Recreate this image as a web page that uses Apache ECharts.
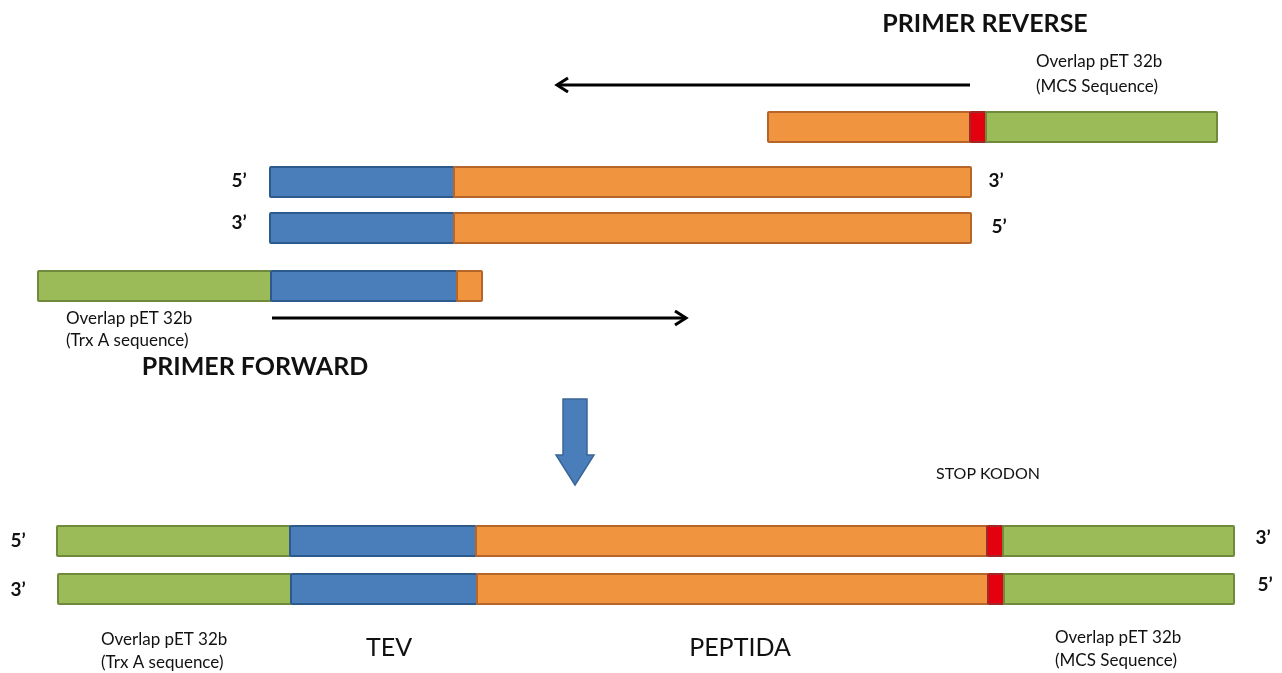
<!DOCTYPE html>
<html><head><meta charset="utf-8">
<script src="https://cdn.jsdelivr.net/npm/echarts@6/dist/echarts.min.js"></script>
<style>html,body{margin:0;padding:0;background:#fff}#c{width:1282px;height:673px}</style>
</head><body><div id="c"></div>
<script>
// Segment kinds
const kinds = ['trx', 'tev', 'peptida', 'stop', 'mcs'];
// Each strand: [rowCenterY, [start, end, kind]...]
const rowReverse = [127, [[768, 970, 'peptida'], [970, 986, 'stop'], [986, 1217, 'mcs']]];
const rowTemplateTop = [182, [[270, 454, 'tev'], [454, 971, 'peptida']]];
const rowTemplateBottom = [228, [[270, 454, 'tev'], [454, 971, 'peptida']]];
const rowForward = [286, [[38, 271, 'trx'], [271, 457, 'tev'], [457, 482, 'peptida']]];
const rowProductTop = [541, [[57, 290, 'trx'], [290, 476, 'tev'], [476, 987, 'peptida'], [987, 1003, 'stop'], [1003, 1234, 'mcs']]];
const rowProductBottom = [589, [[58, 291, 'trx'], [291, 477, 'tev'], [477, 988, 'peptida'], [988, 1004, 'stop'], [1004, 1234, 'mcs']]];
const strands = [rowReverse, rowTemplateTop, rowTemplateBottom, rowForward, rowProductTop, rowProductBottom];

// Primer arrows: [fromX, toX, y]
const primerArrows = [[970, 557, 85], [272, 686, 318]];
// Process arrow: [x, yFrom, yTo]
const processArrow = [575, 399, 485];

// Text labels: [text, x, y, style]
const labels = [
  ['PRIMER REVERSE', 985, 24, 'title'],
  ['Overlap pET 32b', 1036, 62, 'note'],
  ['(MCS Sequence)', 1036, 87, 'note'],
  ['5\u2019', 239, 181, 'end'],
  ['3\u2019', 996, 181, 'end'],
  ['3\u2019', 239, 223, 'end'],
  ['5\u2019', 999, 227, 'end'],
  ['Overlap pET 32b', 66, 319, 'note'],
  ['(Trx A sequence)', 66, 341, 'note'],
  ['PRIMER FORWARD', 255, 367, 'title'],
  ['STOP KODON', 988, 474, 'stop'],
  ['5\u2019', 18, 541, 'end'],
  ['3\u2019', 18, 590, 'end'],
  ['3\u2019', 1263, 538, 'end'],
  ['5\u2019', 1265, 585, 'end'],
  ['Overlap pET 32b', 101, 640, 'note'],
  ['(Trx A sequence)', 101, 663, 'note'],
  ['TEV', 389, 648, 'big'],
  ['PEPTIDA', 740, 648, 'big'],
  ['Overlap pET 32b', 1055, 638, 'note'],
  ['(MCS Sequence)', 1055, 661, 'note']
];

const fills = {trx: '#9BBB59', tev: '#4A7EBB', peptida: '#F0943F', stop: '#E3000F', mcs: '#9BBB59'};
const strokes = {trx: '#6E8A3A', tev: '#2C5A8C', peptida: '#B5652A', stop: '#A02828', mcs: '#6E8A3A'};
const textStyles = {
  title: {font: 'bold 25px Lato', align: 'center'},
  note: {font: '17px Lato', align: 'left'},
  stop: {font: '16px Lato', align: 'center'},
  end: {font: 'bold 19px Lato', align: 'center'},
  big: {font: '25px Lato', align: 'center'}
};

const segData = [];
strands.forEach(s => s[1].forEach(seg => segData.push([seg[0], seg[1], s[0], seg[2]])));
const BAR_H = 30;

const chart = echarts.init(document.getElementById('c'), null, {renderer: 'canvas'});
chart.setOption({
  animation: false,
  backgroundColor: '#ffffff',
  grid: {left: 0, right: 0, top: 0, bottom: 0},
  xAxis: {type: 'value', min: 0, max: 1282, show: false},
  yAxis: {type: 'value', min: 0, max: 673, inverse: true, show: false},
  series: [
    {
      type: 'custom',
      data: segData,
      renderItem: (params, api) => {
        const p0 = api.coord([api.value(0), api.value(2)]);
        const p1 = api.coord([api.value(1), api.value(2)]);
        const k = segData[params.dataIndex][3];
        return {
          type: 'rect',
          shape: {x: p0[0], y: p0[1] - BAR_H / 2, width: p1[0] - p0[0], height: BAR_H, r: 1},
          style: {fill: fills[k], stroke: strokes[k], lineWidth: 2}
        };
      }
    },
    {
      type: 'custom',
      data: primerArrows,
      renderItem: (params, api) => {
        const a = api.coord([api.value(0), api.value(2)]);
        const b = api.coord([api.value(1), api.value(2)]);
        const dir = Math.sign(b[0] - a[0]);
        return {
          type: 'group',
          children: [
            {type: 'line', shape: {x1: a[0], y1: a[1], x2: b[0] - dir * 1, y2: b[1]}, style: {stroke: '#000', lineWidth: 3}},
            {type: 'polyline', shape: {points: [[b[0] - dir * 11, b[1] - 7], [b[0], b[1]], [b[0] - dir * 11, b[1] + 7]]}, style: {stroke: '#000', lineWidth: 3, fill: null, lineJoin: 'miter'}}
          ]
        };
      }
    },
    {
      type: 'custom',
      data: [processArrow],
      renderItem: (params, api) => {
        const top = api.coord([api.value(0), api.value(1)]);
        const tip = api.coord([api.value(0), api.value(2)]);
        const x = top[0];
        const headY = tip[1] - 30;
        return {
          type: 'polygon',
          shape: {points: [[x - 12, top[1]], [x + 12, top[1]], [x + 12, headY], [x + 19, headY], [x, tip[1]], [x - 19, headY], [x - 12, headY]]},
          style: {fill: '#4A7EBB', stroke: '#3A6598', lineWidth: 1.5}
        };
      }
    },
    {
      type: 'custom',
      data: labels.map(l => [l[1], l[2]]),
      renderItem: (params, api) => {
        const l = labels[params.dataIndex];
        const p = api.coord([api.value(0), api.value(1)]);
        const st = textStyles[l[3]];
        return {
          type: 'text',
          x: p[0], y: p[1],
          style: {text: l[0], font: st.font, fill: '#111', align: st.align, verticalAlign: 'middle'}
        };
      }
    }
  ]
});
</script>
</body></html>
